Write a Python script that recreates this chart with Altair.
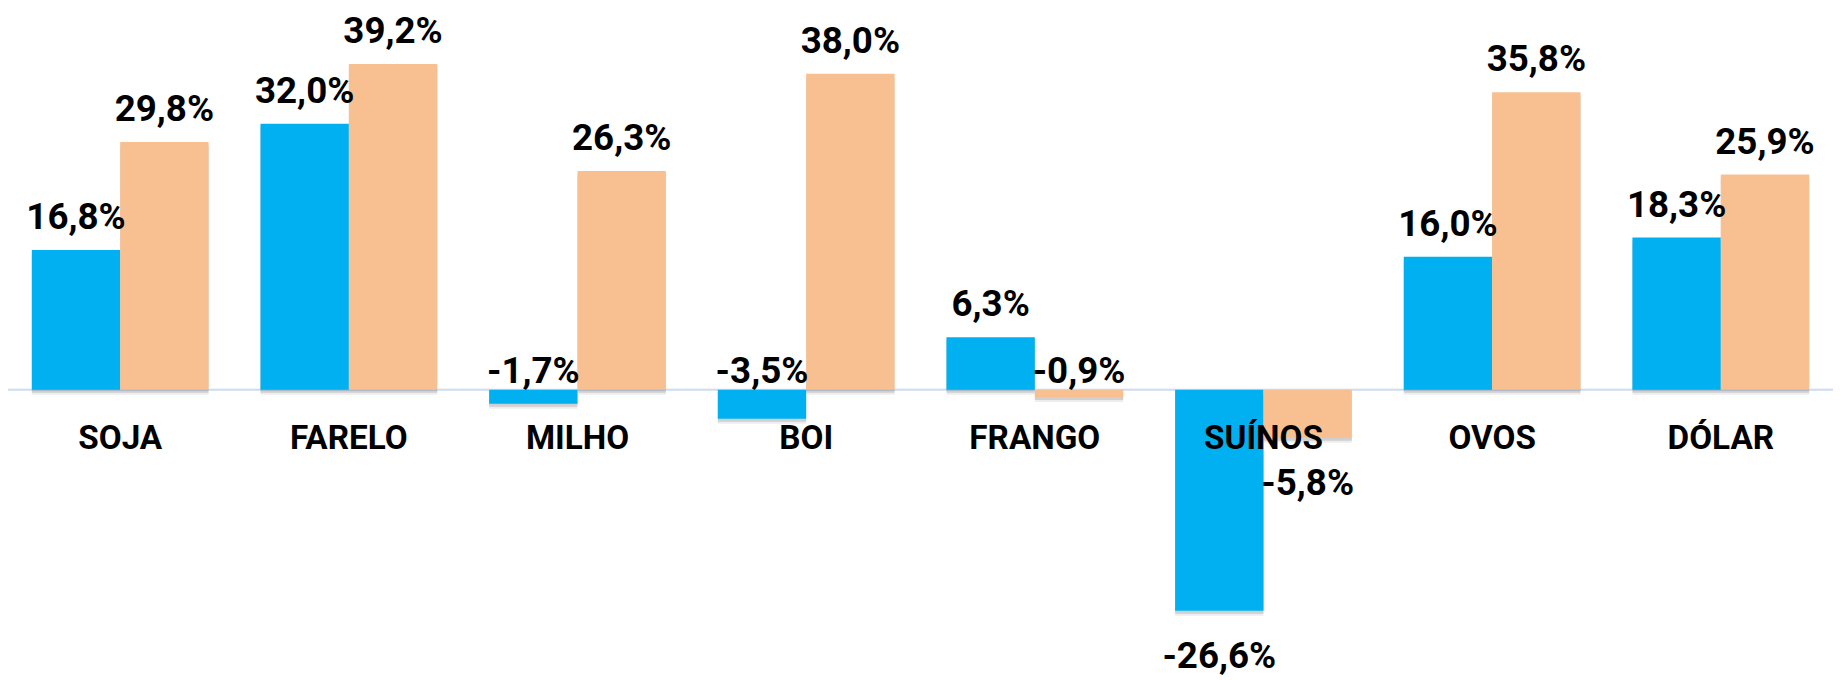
import altair as alt
import pandas as pd

categories = ["SOJA", "FARELO", "MILHO", "BOI", "FRANGO", "SUÍNOS", "OVOS", "DÓLAR"]
series_names = ["Série 1", "Série 2"]
serie1 = [16.8, 32.0, -1.7, -3.5, 6.3, -26.6, 16.0, 18.3]
serie2 = [29.8, 39.2, 26.3, 38.0, -0.9, -5.8, 35.8, 25.9]
colors = ["#00B0F0", "#F8C090"]

rows = []
for c, a, b in zip(categories, serie1, serie2):
    rows.append(dict(cat=c, serie=series_names[0], value=a))
    rows.append(dict(cat=c, serie=series_names[1], value=b))
df = pd.DataFrame(rows)
df["zero"] = 0.0
df["label"] = df["value"].map(lambda v: f"{v:.1f}".replace(".", ",") + "%")
cat_df = pd.DataFrame({"cat": categories, "zero": [0.0] * len(categories)})

W, H = 1838, 672
FONT = "Roboto"

x = alt.X("cat:N", sort=categories, axis=None,
          scale=alt.Scale(domain=categories, paddingInner=0.227, paddingOuter=0.1042))
xo = alt.XOffset("serie:N", sort=series_names,
                 scale=alt.Scale(domain=series_names, paddingInner=0, paddingOuter=0))
yscale = alt.Scale(domain=[-34.65, 45.64], nice=False, zero=False)
y = alt.Y("value:Q", scale=yscale, axis=None)
y0 = alt.Y("zero:Q", scale=yscale, axis=None)
color = alt.Color("serie:N", sort=series_names,
                  scale=alt.Scale(domain=series_names, range=colors), legend=None)

base = alt.Chart(df)

rule = alt.Chart(pd.DataFrame({"zero": [0.0]})).mark_rule(
    color="#CADCF0", strokeWidth=2).encode(y=y0)

shadow2 = base.mark_bar(color="#000000", opacity=0.07, yOffset=5, y2Offset=5).encode(
    x=x, xOffset=xo, y=y, y2="zero:Q")
shadow1 = base.mark_bar(color="#000000", opacity=0.12, yOffset=3, y2Offset=3).encode(
    x=x, xOffset=xo, y=y, y2="zero:Q")
bars = base.mark_bar().encode(x=x, xOffset=xo, y=y, y2="zero:Q", color=color)

txt = dict(font=FONT, fontWeight="bold", fontSize=37, color="#000000", baseline="alphabetic")
pos = base.transform_filter("datum.value > 0").mark_text(dy=-21, **txt).encode(
    x=x, xOffset=xo, y=y, text="label:N")
smallneg = base.transform_filter("datum.value <= 0 && datum.value > -5").mark_text(dy=-7, **txt).encode(
    x=x, xOffset=xo, y=y0, text="label:N")
bigneg = base.transform_filter("datum.value <= -5").mark_text(dy=58, **txt).encode(
    x=x, xOffset=xo, y=y, text="label:N")

cats = alt.Chart(cat_df).mark_text(font=FONT, fontWeight="bold", fontSize=33.5, color="#000000",
                                   baseline="alphabetic", dy=60).encode(
    x=x, y=y0, text="cat:N")

chart = alt.layer(rule, shadow2, shadow1, bars, pos, smallneg, bigneg, cats).properties(
    width=W, height=H, padding=0, autosize=alt.AutoSizeParams(type="none")
).configure_view(stroke=None)

chart.save("out.html", embed_options={"renderer": "svg", "actions": False})
